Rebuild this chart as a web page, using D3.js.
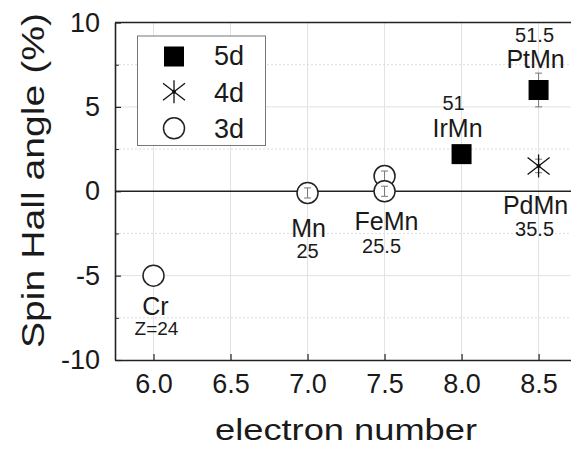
<!DOCTYPE html>
<html><head><meta charset="utf-8">
<script src="https://cdn.jsdelivr.net/npm/d3@7"></script>
<style>body{margin:0;background:#fff}svg{display:block}text{font-family:"Liberation Sans",Arial,sans-serif;fill:#1a1a1a}</style>
</head><body><svg id="c" width="571" height="450"></svg>
<script>
// ---- data ----
const xTicks = [6.0, 6.5, 7.0, 7.5, 8.0, 8.5];
const xTickLabels = ["6.0", "6.5", "7.0", "7.5", "8.0", "8.5"];
const yTicks = [-10, -5, 0, 5, 10];
const yTickLabels = ["-10", "-5", "0", "5", "10"];
const yMinor = [-7.5, -2.5, 2.5, 7.5];

const x5d = [8.0, 8.5];
const y5d = [2.2, 6.0];
const err5d = [0, 1.0];

const x4d = [8.5];
const y4d = [1.5];
const err4d = [0.4];

const x3d = [6.0, 7.0, 7.5, 7.5];
const y3d = [-5.0, -0.1, 0.9, 0.0];
const err3d = [0, 0.3, 0.3, 0.3];

const labelNames = ["Cr", "Mn", "FeMn", "IrMn", "PtMn", "PdMn"];
const labelZ = ["Z=24", "25", "25.5", "51", "51.5", "35.5"];
const labelX = [6.0, 7.0, 7.5, 8.0, 8.5, 8.5];
const labelY = [-5.0, -0.1, 0.0, 2.2, 6.0, 1.5];

const legendLabels = ["5d", "4d", "3d"];

// ---- layout ----
const svg = d3.select("#c");
const L = 115, R = 572, T = 22.5, B = 360;
const x = d3.scaleLinear().domain([5.75, 8.717]).range([L, R]);
const y = d3.scaleLinear().domain([-10, 10]).range([B, T]);

// grid
const g = svg.append("g");
g.selectAll(".vg").data(xTicks).enter().append("line")
  .attr("x1", d => x(d)).attr("x2", d => x(d)).attr("y1", T).attr("y2", B)
  .attr("stroke", "#e2e2e2").attr("stroke-width", 1);
g.selectAll(".hg").data(yTicks.filter(d => d !== 0 && Math.abs(d) !== 10)).enter().append("line")
  .attr("x1", L).attr("x2", R).attr("y1", d => y(d)).attr("y2", d => y(d))
  .attr("stroke", "#e2e2e2").attr("stroke-width", 1);
g.selectAll(".hm").data(yMinor).enter().append("line")
  .attr("x1", L).attr("x2", R).attr("y1", d => y(d)).attr("y2", d => y(d))
  .attr("stroke", "#dddddd").attr("stroke-width", 1).attr("stroke-dasharray", "2,2");

// zero line
svg.append("line").attr("x1", L).attr("x2", R).attr("y1", y(0)).attr("y2", y(0))
  .attr("stroke", "#222").attr("stroke-width", 1.6);

// axes
const xAxis = d3.axisBottom(x).tickValues(xTicks).tickFormat((d, i) => xTickLabels[i]).tickSizeInner(-6).tickSizeOuter(0).tickPadding(14);
const xa = svg.append("g").attr("transform", `translate(0,${B})`).call(xAxis);
const yAxis = d3.axisLeft(y).tickValues(yTicks).tickFormat((d, i) => yTickLabels[i]).tickSizeInner(-6).tickSizeOuter(0).tickPadding(15);
const ya = svg.append("g").attr("transform", `translate(${L},0)`).call(yAxis);
const yAxisMinor = d3.axisLeft(y).tickValues(yMinor).tickFormat("").tickSizeInner(-4).tickSizeOuter(0);
svg.append("g").attr("transform", `translate(${L},0)`).call(yAxisMinor).select(".domain").remove();
[xa, ya].forEach(a => {
  a.selectAll(".domain").attr("stroke", "#222").attr("stroke-width", 1.6);
  a.selectAll(".tick line").attr("stroke", "#222").attr("stroke-width", 1.2);
  a.selectAll("text").style("font-size", "27px").attr("fill", "#1a1a1a").style("font-family", '"Liberation Sans",Arial,sans-serif');
});
svg.selectAll(".tick line").attr("stroke", "#222");
xa.selectAll("text").attr("dy", "0.71em");
// top border
svg.append("line").attr("x1", L).attr("x2", R).attr("y1", T).attr("y2", T).attr("stroke", "#222").attr("stroke-width", 1.6);

// axis titles
svg.append("text").attr("x", 346).attr("y", 440).attr("text-anchor", "middle")
  .style("font-size", "29px").attr("textLength", 262).attr("lengthAdjust", "spacingAndGlyphs")
  .text("electron number");
svg.append("text").attr("transform", "translate(43.5,180.5) rotate(-90)").attr("text-anchor", "middle")
  .style("font-size", "32px").attr("textLength", 335).attr("lengthAdjust", "spacingAndGlyphs")
  .text("Spin Hall angle (%)");

// marker helpers
function errBar(cx, v, e, parent) {
  if (!e) return;
  const y1 = y(v + e), y2 = y(v - e);
  parent.append("line").attr("x1", x(cx)).attr("x2", x(cx)).attr("y1", y1).attr("y2", y2).attr("stroke", "#777").attr("stroke-width", 1);
  [y1, y2].forEach(yy => parent.append("line").attr("x1", x(cx) - 3.5).attr("x2", x(cx) + 3.5).attr("y1", yy).attr("y2", yy).attr("stroke", "#777").attr("stroke-width", 1));
}
function star(parent, px, py) {
  const sg = parent.append("g").attr("stroke", "#111").attr("stroke-width", 1.3);
  sg.append("line").attr("x1", px).attr("x2", px).attr("y1", py - 11.5).attr("y2", py + 11.5);
  sg.append("line").attr("x1", px - 11).attr("x2", px + 11).attr("y1", py - 8.5).attr("y2", py + 8.5);
  sg.append("line").attr("x1", px - 11).attr("x2", px + 11).attr("y1", py + 8.5).attr("y2", py - 8.5);
  parent.append("circle").attr("cx", px).attr("cy", py).attr("r", 2).attr("fill", "#111");
}

const m = svg.append("g");
// 3d circles
x3d.forEach((d, i) => {
  m.append("circle").attr("cx", x(d)).attr("cy", y(y3d[i])).attr("r", 10.5)
    .attr("fill", "#fff").attr("stroke", "#222").attr("stroke-width", 1.5);
  errBar(d, y3d[i], err3d[i], m);
});
// 5d squares
x5d.forEach((d, i) => {
  errBar(d, y5d[i], err5d[i], m);
  m.append("rect").attr("x", x(d) - 10).attr("y", y(y5d[i]) - 10).attr("width", 20).attr("height", 20).attr("fill", "#000");
});
// 4d stars
x4d.forEach((d, i) => {
  errBar(d, y4d[i], err4d[i], m);
  star(m, x(d), y(y4d[i]));
});

// point labels (offsets in px from the point)
const nameOff = [[2, 39], [1, 44], [2, 39], [-4, -17.5], [-3, -22], [-3, 48]];
const zOff = [[3, 59], [0, 65], [-3, 62], [-8, -44], [-4, -48], [-4, 70]];
labelNames.forEach((n, i) => {
  const px = x(labelX[i]), py = y(labelY[i]);
  svg.append("text").attr("x", px + nameOff[i][0]).attr("y", py + nameOff[i][1]).attr("text-anchor", "middle")
    .style("font-size", "25px").text(n);
  svg.append("text").attr("x", px + zOff[i][0]).attr("y", py + zOff[i][1]).attr("text-anchor", "middle")
    .style("font-size", i === 0 ? "19px" : "20px").text(labelZ[i]);
});

// legend
const lg = svg.append("g");
lg.append("rect").attr("x", 137.5).attr("y", 36).attr("width", 128).attr("height", 109.5)
  .attr("fill", "#fff").attr("stroke", "#777").attr("stroke-width", 1);
lg.append("rect").attr("x", 164).attr("y", 46.5).attr("width", 20).attr("height", 20).attr("fill", "#000");
star(lg, 174, 91.7);
lg.append("circle").attr("cx", 174).attr("cy", 128.3).attr("r", 10.5).attr("fill", "#fff").attr("stroke", "#222").attr("stroke-width", 1.5);
const lgY = [65, 101.7, 138.3];
legendLabels.forEach((t, i) => {
  lg.append("text").attr("x", 214).attr("y", lgY[i]).style("font-size", "27px").text(t);
});
</script></body></html>
